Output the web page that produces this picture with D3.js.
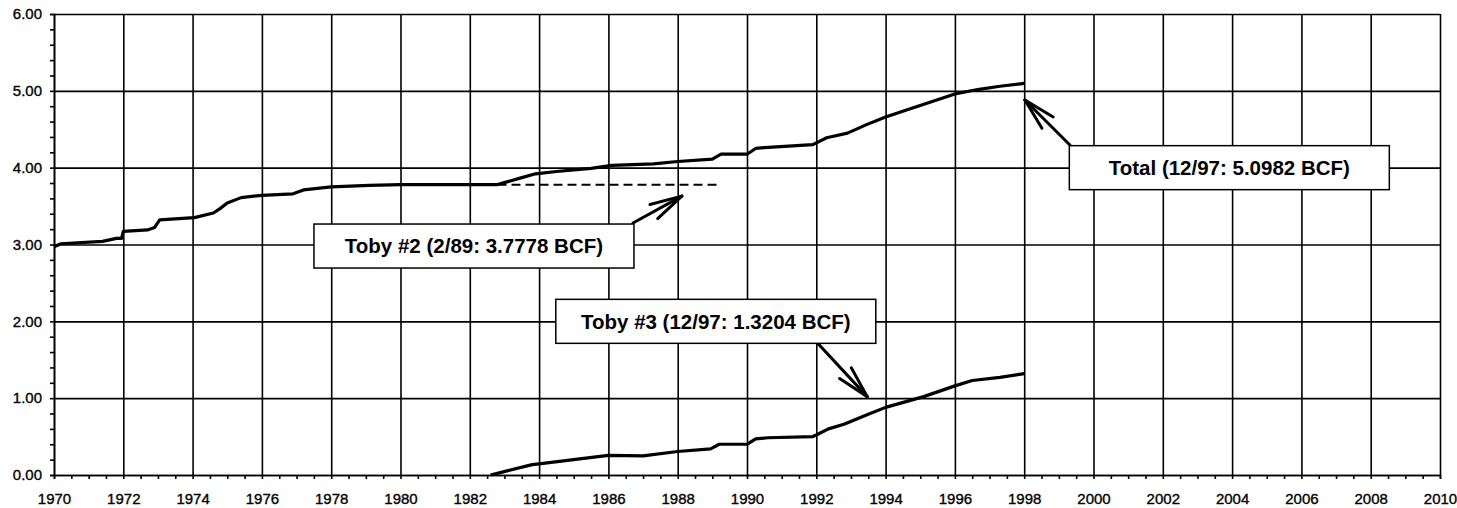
<!DOCTYPE html>
<html>
<head>
<meta charset="utf-8">
<script src="https://cdn.jsdelivr.net/npm/d3@7"></script>
<style>
  body { margin: 0; background: #fff; }
  svg { display: block; font-family: "Liberation Sans", Arial, sans-serif; }
</style>
</head>
<body>
<div id="chart"></div>
<script>

// cumulative gas (BCF)
var totalYears = [1970.0, 1970.2, 1971.4, 1971.8, 1971.95, 1972.0, 1972.7, 1972.9, 1973.05, 1974.05,
    1974.6, 1974.8, 1975.0, 1975.4, 1976.0, 1976.9, 1977.2, 1978.0, 1979.1, 1980.0,
    1982.8, 1983.5, 1983.9, 1984.5, 1985.5, 1986.1, 1987.3, 1988.0, 1989.0, 1989.25,
    1990.0, 1990.25, 1990.5, 1991.9, 1992.3, 1992.9, 1993.45, 1994.0, 1994.8, 1996.0,
    1996.7, 1997.3, 1998.0];
var totalValues = [2.97, 3.01, 3.04, 3.08, 3.08, 3.17, 3.19, 3.22, 3.32, 3.35,
    3.41, 3.47, 3.54, 3.61, 3.64, 3.66, 3.71, 3.75, 3.77, 3.78,
    3.78, 3.87, 3.92, 3.95, 3.99, 4.03, 4.05, 4.08, 4.11, 4.175,
    4.175, 4.25, 4.26, 4.30, 4.39, 4.45, 4.56, 4.66, 4.78, 4.96,
    5.02, 5.06, 5.098];

var toby3Years = [1982.6, 1983.05, 1983.8, 1984.0, 1985.7, 1986.0, 1987.0, 1988.0, 1988.95, 1989.2,
    1990.0, 1990.25, 1990.6, 1991.9, 1992.0, 1992.35, 1992.8, 1993.5, 1994.0, 1995.1,
    1996.0, 1996.5, 1997.3, 1998.0];
var toby3Values = [0.0, 0.05, 0.135, 0.145, 0.24, 0.255, 0.25, 0.306, 0.34, 0.40,
    0.40, 0.47, 0.485, 0.50, 0.52, 0.60, 0.66, 0.79, 0.88, 1.02,
    1.16, 1.23, 1.27, 1.32];

var toby2Years = [1982.8, 1989.2];
var toby2Values = [3.7778, 3.7778];

var xTicks = [1970, 1972, 1974, 1976, 1978, 1980, 1982, 1984, 1986, 1988, 1990,
    1992, 1994, 1996, 1998, 2000, 2002, 2004, 2006, 2008, 2010];
var yTicks = [0, 1, 2, 3, 4, 5, 6];

// callouts
var noteText = ["Toby #2 (2/89: 3.7778 BCF)", "Toby #3 (12/97: 1.3204 BCF)", "Total (12/97: 5.0982 BCF)"];
var noteBoxX = [1982.12, 1989.1, 2003.92];
var noteBoxY = [2.98, 2.0, 4.0];
var noteTailX = [1986.71, 1992.06, 1999.32];
var noteTailY = [3.28, 1.705, 4.295];
var noteTipX = [1988.12, 1993.47, 1998.02];
var noteTipY = [3.63, 1.02, 4.88];

var width = 1457,
    height = 508,
    m = {left: 54, right: 1440, top: 14, bottom: 475};

var svg = d3.select("#chart")
    .append("svg")
        .attr("width", width)
        .attr("height", height)

var x = d3.scaleLinear()
    .domain([1970, 2010])
    .range([m.left, m.right])

var y = d3.scaleLinear()
    .domain([0, 6])
    .range([m.bottom, m.top])

// grid + labels
var yAxis = svg.append("g")
    .attr("transform", "translate(" + m.left + ",0)")
    .call(d3.axisLeft(y).tickValues(yTicks).tickFormat(d3.format(".2f"))
        .tickSize(-(m.right - m.left)).tickPadding(12))
yAxis.select(".domain").remove()

var xAxis = svg.append("g")
    .attr("transform", "translate(0," + m.bottom + ")")
    .call(d3.axisBottom(x).tickValues(xTicks).tickFormat(d3.format("d"))
        .tickSize(-(m.bottom - m.top)).tickPadding(18))
xAxis.select(".domain").remove()

// small outside ticks
svg.append("g")
    .attr("transform", "translate(" + m.left + ",0)")
    .call(d3.axisLeft(y).tickValues(d3.range(0, 6.01, 0.2)).tickFormat(function(){ return "" }).tickSize(4))
svg.append("g")
    .attr("transform", "translate(0," + m.bottom + ")")
    .call(d3.axisBottom(x).tickValues(d3.range(1970, 2010.01, 0.5)).tickFormat(function(){ return "" }).tickSize(4))

svg.selectAll(".tick line, .domain")
    .attr("stroke", "#000")
    .attr("stroke-width", 1.6)
svg.selectAll(".tick text")
    .attr("fill", "#000")
    .attr("stroke", "#000")
    .attr("stroke-width", 0.35)
    .style("font-size", "15px")

var line = d3.line()
    .x(function(d){ return x(d[0]) })
    .y(function(d){ return y(d[1]) })

svg.append("path")
    .datum(d3.zip(totalYears, totalValues))
    .attr("d", line)
    .attr("fill", "none")
    .attr("stroke", "#000")
    .attr("stroke-width", 3.2)
    .attr("stroke-linejoin", "round")

svg.append("path")
    .datum(d3.zip(toby3Years, toby3Values))
    .attr("d", line)
    .attr("fill", "none")
    .attr("stroke", "#000")
    .attr("stroke-width", 3.2)
    .attr("stroke-linejoin", "round")

svg.append("path")
    .datum(d3.zip(toby2Years, toby2Values))
    .attr("d", line)
    .attr("fill", "none")
    .attr("stroke", "#000")
    .attr("stroke-width", 2)
    .attr("stroke-dasharray", "9,5")

// arrows: shaft + two open barbs
var barbLen = 33, barbAng = 14 * Math.PI / 180;
noteText.forEach(function(t, i) {
    var tx = x(noteTipX[i]), ty = y(noteTipY[i]),
        sx = x(noteTailX[i]), sy = y(noteTailY[i]);
    var a = Math.atan2(sy - ty, sx - tx);
    var g = svg.append("g")
        .attr("stroke", "#000")
        .attr("stroke-width", 3)
        .attr("stroke-linecap", "round")
    g.append("line").attr("x1", sx).attr("y1", sy).attr("x2", tx).attr("y2", ty)
    g.append("line").attr("x1", tx).attr("y1", ty)
        .attr("x2", tx + barbLen * Math.cos(a + barbAng)).attr("y2", ty + barbLen * Math.sin(a + barbAng))
    g.append("line").attr("x1", tx).attr("y1", ty)
        .attr("x2", tx + barbLen * Math.cos(a - barbAng)).attr("y2", ty + barbLen * Math.sin(a - barbAng))
});

// boxes on top of arrows
var boxW = 320, boxH = 44;
noteText.forEach(function(t, i) {
    var cx = x(noteBoxX[i]), cy = y(noteBoxY[i]);
    svg.append("rect")
        .attr("x", cx - boxW / 2)
        .attr("y", cy - boxH / 2)
        .attr("width", boxW)
        .attr("height", boxH)
        .attr("fill", "#fff")
        .attr("stroke", "#000")
        .attr("stroke-width", 1.5)
    svg.append("text")
        .attr("x", cx)
        .attr("y", cy)
        .attr("dy", "0.36em")
        .attr("text-anchor", "middle")
        .style("font-size", "20.5px")
        .style("font-weight", "bold")
        .text(t)
});

</script>
</body>
</html>
